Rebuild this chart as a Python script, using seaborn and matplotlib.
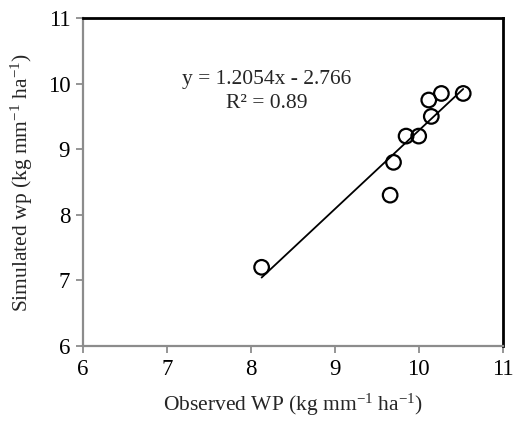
import matplotlib
matplotlib.use("Agg")
import matplotlib.pyplot as plt
import seaborn as sns
import numpy as np
import pandas as pd

observed = [8.13, 9.66, 9.70, 9.85, 10.00, 10.15, 10.12, 10.27, 10.53]
simulated = [7.20, 8.30, 8.80, 9.20, 9.20, 9.50, 9.75, 9.85, 9.85]
x_ticks = [6, 7, 8, 9, 10, 11]
y_ticks = [6, 7, 8, 9, 10, 11]
eq_text = "y = 1.2054x - 2.766"
r2_text = "R² = 0.89"

df = pd.DataFrame({"obs": observed, "sim": simulated})

sns.set_theme(style="white")
plt.rcParams["font.family"] = ["Liberation Serif", "DejaVu Serif"]
plt.rcParams["mathtext.fontset"] = "custom"
plt.rcParams["mathtext.rm"] = "Liberation Serif"
plt.rcParams["mathtext.it"] = "Liberation Serif:italic"

fig = plt.figure(figsize=(5.15, 4.30), dpi=100)
ax = fig.add_axes([0.1606, 0.1953, 0.8155, 0.7628])

sns.regplot(data=df, x="obs", y="sim", ax=ax, scatter=False, ci=None,
            line_kws=dict(color="black", lw=1.3))
sns.scatterplot(data=df, x="obs", y="sim", ax=ax, marker="o", s=110,
                facecolor="none", edgecolor="black", linewidth=1.6, zorder=3)

ax.set_xlim(6, 11)
ax.set_ylim(6, 11)
ax.set_xticks(x_ticks)
ax.set_yticks(y_ticks)
ax.set_xticklabels([str(t) for t in x_ticks], fontsize=16.5)
ax.set_yticklabels([str(t) for t in y_ticks], fontsize=16.5)
ax.tick_params(axis="both", direction="out", length=5, width=1.3,
               color="#8c8c8c", pad=4, labelcolor="black")
ax.tick_params(axis="both", which="both", bottom=True, left=True)

for s in ["left", "bottom"]:
    ax.spines[s].set_color("#8c8c8c")
    ax.spines[s].set_linewidth(1.6)
for s in ["top", "right"]:
    ax.spines[s].set_color("black")
    ax.spines[s].set_linewidth(2.0)
    ax.spines[s].set_visible(True)

ax.set_xlabel(r"Observed WP (kg mm$^{\mathregular{-1}}$ ha$^{\mathregular{-1}}$)",
              fontsize=15.5, labelpad=9)
ax.set_ylabel(r"Simulated wp (kg mm$^{\mathregular{-1}}$ ha$^{\mathregular{-1}}$)",
              fontsize=15.5, labelpad=9)

ax.text(0.439, 0.814, eq_text, transform=ax.transAxes, ha="center", va="center", fontsize=15.5)
ax.text(0.439, 0.738, r2_text, transform=ax.transAxes, ha="center", va="center", fontsize=15.5)

fig.savefig("out.png", dpi=100)
